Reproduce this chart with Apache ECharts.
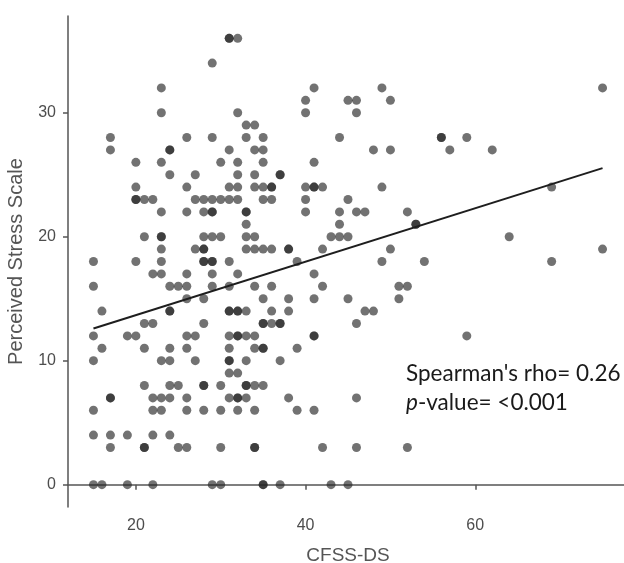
<!DOCTYPE html>
<html>
<head>
<meta charset="utf-8">
<script src="https://cdn.jsdelivr.net/npm/echarts@6/dist/echarts.min.js"></script>
<style>
  html, body { margin: 0; padding: 0; background: #fff; }
  #chart { width: 624px; height: 563px; }
</style>
</head>
<body>
<div id="chart"></div>
<script>
// PSS score rows, and the CFSS-DS scores seen on each row
var pssRows = [36, 34, 32, 31, 30, 29, 28, 27, 26, 25, 24, 23, 22, 21, 20, 19, 18, 17, 16, 15, 14, 13, 12, 11, 10, 9, 8, 7, 6, 4, 3, 0];
var cfssByRow = [
    [31, 32],
    [29],
    [23, 41, 49, 75],
    [40, 45, 46, 50],
    [23, 32, 40, 46],
    [33, 34],
    [17, 26, 29, 33, 35, 44, 56, 59],
    [17, 24, 31, 34, 35, 48, 50, 57, 62],
    [20, 23, 30, 32, 35, 41],
    [24, 27, 32, 34, 37],
    [20, 26, 31, 32, 34, 35, 36, 40, 41, 42, 49, 69],
    [20, 21, 22, 27, 28, 29, 30, 31, 32, 35, 36, 40, 45],
    [23, 26, 28, 29, 33, 40, 44, 46, 47, 52],
    [33, 44, 53],
    [21, 23, 28, 29, 30, 33, 34, 43, 44, 45, 64],
    [23, 27, 28, 33, 34, 35, 36, 38, 42, 50, 75],
    [15, 20, 23, 28, 29, 31, 39, 49, 54, 69],
    [22, 23, 26, 29, 32, 41],
    [15, 24, 25, 26, 29, 31, 34, 36, 42, 51, 52],
    [26, 28, 35, 38, 41, 45, 51],
    [16, 24, 31, 32, 33, 36, 38, 47, 48],
    [21, 22, 28, 35, 36, 37, 46],
    [15, 19, 20, 26, 27, 31, 32, 33, 34, 41, 59],
    [16, 21, 24, 26, 31, 34, 35, 39],
    [15, 23, 24, 27, 31, 33, 37],
    [31, 32],
    [21, 24, 25, 28, 30, 33, 34, 35],
    [17, 22, 23, 24, 26, 31, 32, 33, 38, 46],
    [15, 22, 23, 26, 28, 30, 32, 34, 39, 41],
    [15, 17, 19, 22, 24],
    [17, 21, 25, 26, 30, 34, 42, 46, 52],
    [15, 16, 19, 22, 29, 30, 35, 37, 43, 45]
];
// tied participants (drawn darker where dots stack)
var tiedPoints = [
    [31, 36], [24, 27], [56, 28], [37, 25], [36, 24], [41, 24], [20, 23],
    [29, 22], [33, 22], [53, 21], [23, 20], [28, 19], [38, 19], [28, 18],
    [29, 18], [24, 14], [31, 14], [32, 14], [35, 13], [37, 13], [32, 12],
    [41, 12], [35, 11], [31, 10], [28, 8], [33, 8], [17, 7], [32, 7],
    [21, 3], [34, 3], [35, 0]
];
// fitted line ends
var fitX = [15, 75];
var fitY = [12.6, 25.53];

var xTicks = [20, 40, 60];
var yTicks = [0, 10, 20, 30];

var points = [];
pssRows.forEach(function (y, i) {
    cfssByRow[i].forEach(function (x) { points.push([x, y]); });
});
tiedPoints.forEach(function (p) { points.push(p); });

var myChart = echarts.init(document.getElementById('chart'));
var axisGray = '#4d4d4d';

var option = {
    animation: false,
    grid: { left: 68, top: 16, width: 560, height: 491, containLabel: false, outerBoundsMode: 'none' },
    xAxis: {
        type: 'value', min: 12, max: 78,
        name: 'CFSS-DS', nameLocation: 'middle', nameGap: 39,
        nameTextStyle: { fontFamily: 'Liberation Sans', fontSize: 19, color: '#555' },
        axisLine: { lineStyle: { color: '#555', width: 1.5 } },
        axisTick: { show: true, length: 5, customValues: xTicks, lineStyle: { color: '#555', width: 1.5 } },
        axisLabel: { customValues: xTicks, margin: 11, fontFamily: 'Liberation Sans', fontSize: 16, color: axisGray },
        splitLine: { show: false }
    },
    yAxis: {
        type: 'value', min: -1.8, max: 37.8,
        name: 'Perceived Stress Scale', nameLocation: 'middle', nameGap: 42, nameRotate: 90,
        nameTextStyle: { fontFamily: 'Liberation Sans', fontSize: 20, color: '#555' },
        axisLine: { show: true, lineStyle: { color: '#555', width: 1.5 } },
        axisTick: { show: true, length: 5, customValues: yTicks, lineStyle: { color: '#555', width: 1.5 } },
        axisLabel: { customValues: yTicks, margin: 12, fontFamily: 'Liberation Sans', fontSize: 16, color: axisGray },
        splitLine: { show: false }
    },
    series: [
        {
            type: 'scatter',
            data: points,
            symbolSize: 9,
            itemStyle: { color: 'rgba(35,35,35,0.8)' }
        },
        {
            type: 'line',
            data: fitX.map(function (x, i) { return [x, fitY[i]]; }),
            showSymbol: false,
            lineStyle: { color: '#1e1e1e', width: 2 }
        }
    ],
    graphic: [
        {
            type: 'text', left: 406, top: 362,
            style: { text: "Spearman's rho= 0.26", font: '22.5px Lato', fill: '#1a1a1a' }
        },
        {
            type: 'text', left: 406, top: 391,
            style: {
                text: '{i|p}-value= <0.001',
                font: '22.5px Lato', fill: '#1a1a1a',
                rich: { i: { fontStyle: 'italic', fontFamily: 'Lato', fontSize: 22.5, color: '#1a1a1a' } }
            }
        }
    ]
};

myChart.setOption(option);
</script>
</body>
</html>
